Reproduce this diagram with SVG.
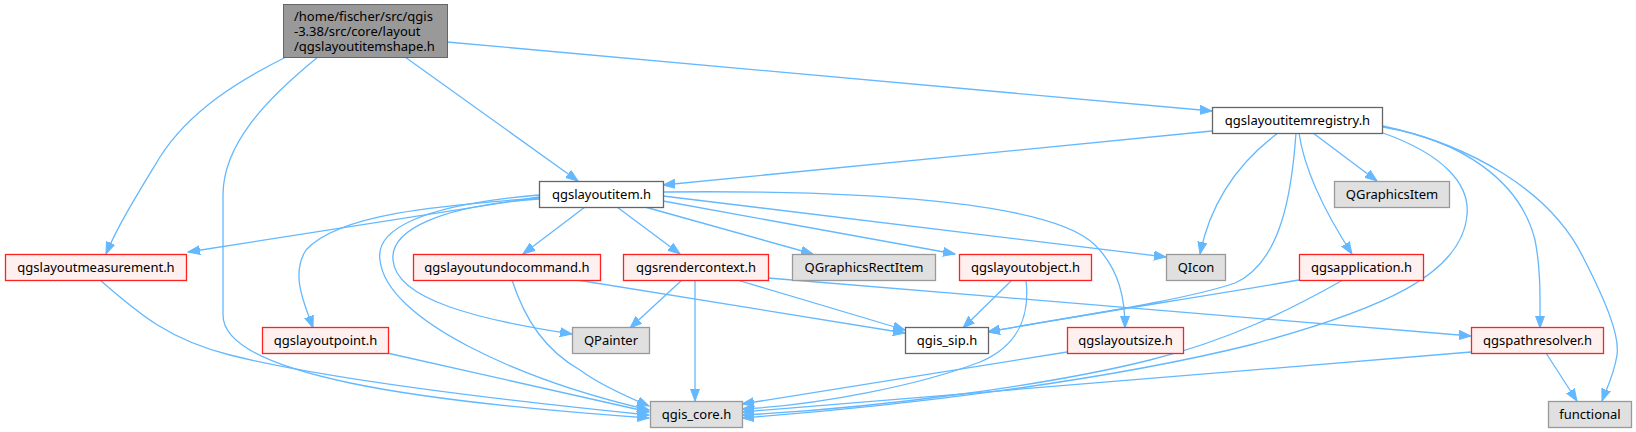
<svg xmlns="http://www.w3.org/2000/svg" width="1636" height="432" viewBox="0 0 1636 432">
<defs>
<style>
.e{fill:none;stroke:#63b8ff;stroke-width:1.3;marker-end:url(#a)}
text{font-family:"Noto Sans","DejaVu Sans",sans-serif;font-size:13px;fill:#000;text-anchor:middle}
.root rect{fill:#999999;stroke:#666666}
.w rect{fill:#ffffff;stroke:#666666;stroke-width:1.3}
.r rect{fill:#fff0f0;stroke:#ff2020;stroke-width:1.3}
.g rect{fill:#e0e0e0;stroke:#999999;stroke-width:1.3}
</style>
<marker id="a" markerWidth="13" markerHeight="10" refX="12" refY="5" orient="auto" markerUnits="userSpaceOnUse">
<path d="M0,0.5 L12,5 L0,9.5 z" fill="#63b8ff" stroke="#63b8ff" stroke-width="1"/>
</marker>
</defs>
<rect width="1636" height="432" fill="#ffffff"/>
<g id="edges">
<path class="e" d="M447,42 L1212,111"/>
<path class="e" d="M405,57 L578,181"/>
<path class="e" d="M286,57 C240,80 190,110 160,157 C140,190 118,225 106,254"/>
<path class="e" d="M318,57 C265,100 223,145 223,195 L223,315 C223,375 420,402 649,418"/>
<path class="e" d="M1212,131 L663,185"/>
<path class="e" d="M1278,133 C1235,165 1210,205 1200,254"/>
<path class="e" d="M1296,133 C1292,190 1282,262 1235,283 C1180,302 1050,320 988,332"/>
<path class="e" d="M1299,280 C1200,297 1050,320 988,332"/>
<path class="e" d="M1313,133 L1377,181"/>
<path class="e" d="M1299,133 C1305,175 1330,220 1352,254"/>
<path class="e" d="M1383,133 C1445,155 1470,185 1467,215 C1462,275 1380,310 1250,345 C1100,382 900,406 742,418"/>
<path class="e" d="M1383,127 C1460,140 1520,180 1535,240 C1541,270 1540,300 1540,328"/>
<path class="e" d="M1383,126 C1470,145 1550,190 1583,257 C1605,300 1620,335 1617,355 C1614,375 1606,390 1602,401"/>
<path class="e" d="M1546,353 L1577,401"/>
<path class="e" d="M1471,352 L742,412"/>
<path class="e" d="M768,278 L1471,336"/>
<path class="e" d="M585,207 L523,254"/>
<path class="e" d="M617,207 L680,254"/>
<path class="e" d="M645,207 L813,254"/>
<path class="e" d="M663,201 L955,254"/>
<path class="e" d="M663,196 L1166,257"/>
<path class="e" d="M663,192 C850,190 1050,200 1095,245 C1120,270 1125,300 1125,328"/>
<path class="e" d="M539,197 L188,252"/>
<path class="e" d="M539,198 C450,205 340,212 306,250 C290,275 305,305 313,328"/>
<path class="e" d="M539,199 C440,206 390,230 393,260 C396,300 480,320 572,334"/>
<path class="e" d="M539,195 C420,205 375,230 380,260 C386,320 520,380 649,410"/>
<path class="e" d="M100,280 C140,315 170,340 230,355 C330,380 520,402 649,415"/>
<path class="e" d="M387,353 L649,412"/>
<path class="e" d="M512,280 C525,320 545,350 580,370 C600,385 630,398 649,406"/>
<path class="e" d="M577,280 L905,333"/>
<path class="e" d="M682,280 L630,328"/>
<path class="e" d="M695,280 L695,401"/>
<path class="e" d="M737,280 L905,330"/>
<path class="e" d="M1012,280 L963,328"/>
<path class="e" d="M1026,280 C1030,315 1020,345 980,362 C920,385 820,405 742,409"/>
<path class="e" d="M1067,352 L742,404"/>
<path class="e" d="M1343,280 C1290,310 1230,340 1150,360 C1050,385 880,408 742,415"/>
</g>
<g id="n_root" class="root"><rect x="283.5" y="4.5" width="164" height="53"/>
<text x="294" y="21" style="text-anchor:start">/home/fischer/src/qgis</text>
<text x="294" y="36" style="text-anchor:start">-3.38/src/core/layout</text>
<text x="294" y="51" style="text-anchor:start">/qgslayoutitemshape.h</text></g>
<g id="n_registry" class="w"><rect x="1212.5" y="107.5" width="170" height="26"/><text x="1297.5" y="125">qgslayoutitemregistry.h</text></g>
<g id="n_item" class="w"><rect x="539.5" y="181.5" width="124" height="26"/><text x="601.5" y="199">qgslayoutitem.h</text></g>
<g id="n_qgraphicsitem" class="g"><rect x="1334.5" y="181.5" width="115" height="26"/><text x="1392" y="199">QGraphicsItem</text></g>
<g id="n_measurement" class="r"><rect x="5.5" y="254.5" width="181" height="26"/><text x="96" y="272">qgslayoutmeasurement.h</text></g>
<g id="n_undo" class="r"><rect x="413.5" y="254.5" width="187" height="26"/><text x="507" y="272">qgslayoutundocommand.h</text></g>
<g id="n_render" class="r"><rect x="623.5" y="254.5" width="145" height="26"/><text x="696" y="272">qgsrendercontext.h</text></g>
<g id="n_rectitem" class="g"><rect x="792.5" y="254.5" width="143" height="26"/><text x="864" y="272">QGraphicsRectItem</text></g>
<g id="n_object" class="r"><rect x="959.5" y="254.5" width="132" height="26"/><text x="1025.5" y="272">qgslayoutobject.h</text></g>
<g id="n_qicon" class="g"><rect x="1166.5" y="254.5" width="59" height="26"/><text x="1196" y="272">QIcon</text></g>
<g id="n_app" class="r"><rect x="1299.5" y="254.5" width="124" height="26"/><text x="1361.5" y="272">qgsapplication.h</text></g>
<g id="n_point" class="r"><rect x="262.5" y="327.5" width="126" height="26"/><text x="325.5" y="345">qgslayoutpoint.h</text></g>
<g id="n_qpainter" class="g"><rect x="572.5" y="327.5" width="77" height="26"/><text x="611" y="345">QPainter</text></g>
<g id="n_sip" class="w"><rect x="905.5" y="327.5" width="83" height="26"/><text x="947" y="345">qgis_sip.h</text></g>
<g id="n_size" class="r"><rect x="1067.5" y="327.5" width="116" height="26"/><text x="1125.5" y="345">qgslayoutsize.h</text></g>
<g id="n_path" class="r"><rect x="1471.5" y="327.5" width="132" height="26"/><text x="1537.5" y="345">qgspathresolver.h</text></g>
<g id="n_core" class="g"><rect x="650.5" y="401.5" width="92" height="26"/><text x="696.5" y="419">qgis_core.h</text></g>
<g id="n_functional" class="g"><rect x="1548.5" y="401.5" width="83" height="26"/><text x="1590" y="419">functional</text></g>
</svg>
